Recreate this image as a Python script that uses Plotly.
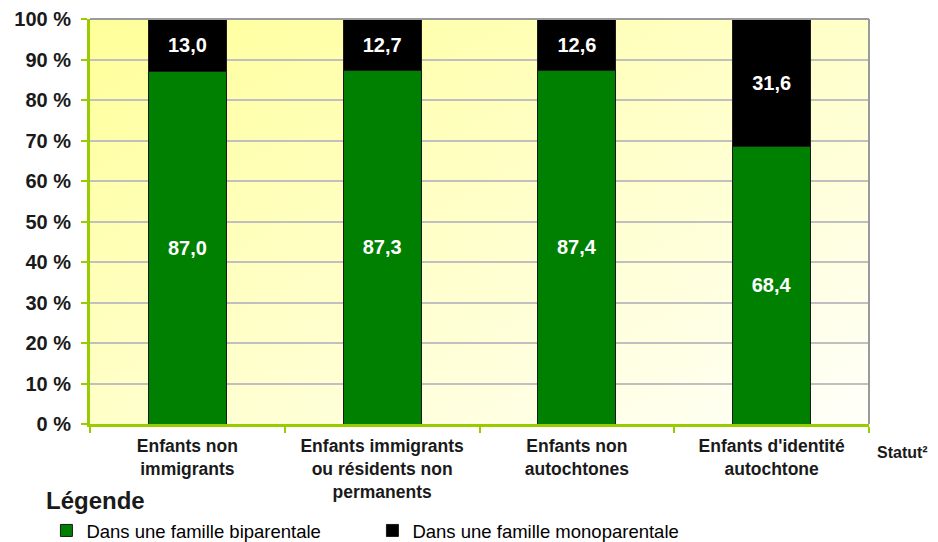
import base64
import plotly.graph_objects as go

categories = [
    "Enfants non<br>immigrants",
    "Enfants immigrants<br>ou résidents non<br>permanents",
    "Enfants non<br>autochtones",
    "Enfants d'identité<br>autochtone",
]
biparentale = [87.0, 87.3, 87.4, 68.4]
monoparentale = [13.0, 12.7, 12.6, 31.6]
series_names = ["Dans une famille biparentale", "Dans une famille monoparentale"]
y_ticks = [0, 10, 20, 30, 40, 50, 60, 70, 80, 90, 100]
y_tick_labels = [f"{v} %" for v in y_ticks]


def fr(v):
    return f"{v:.1f}".replace(".", ",")


GREEN_AXIS = "#99cc00"
FONT = "Liberation Sans, Arial, sans-serif"

fig = go.Figure()
fig.add_trace(go.Bar(
    x=categories, y=biparentale, name=series_names[0],
    marker=dict(color="#008000", line=dict(color="#1a1a1a", width=1)),
    text=[fr(v) for v in biparentale], textposition="inside",
    insidetextanchor="middle",
    textfont=dict(color="white", size=20, family=FONT, weight="bold"),
    hoverinfo="skip",
))
fig.add_trace(go.Bar(
    x=categories, y=monoparentale, name=series_names[1],
    marker=dict(color="#000000", line=dict(color="#1a1a1a", width=1)),
    text=[fr(v) for v in monoparentale], textposition="inside",
    insidetextanchor="middle",
    textfont=dict(color="white", size=20, family=FONT, weight="bold"),
    hoverinfo="skip",
))

svg = (
    '<svg xmlns="http://www.w3.org/2000/svg" width="800" height="400" preserveAspectRatio="none">'
    '<defs><linearGradient id="g" x1="0" y1="0" x2="1" y2="1">'
    '<stop offset="0" stop-color="#ffff99"/>'
    '<stop offset="1" stop-color="#fffffa"/>'
    '</linearGradient></defs>'
    '<rect width="800" height="400" fill="url(#g)"/></svg>'
)
src = "data:image/svg+xml;base64," + base64.b64encode(svg.encode()).decode()

fig.update_layout(
    barmode="stack",
    bargap=0.6,
    width=938, height=542,
    margin=dict(l=90, r=69, t=19, b=118, autoexpand=False),
    paper_bgcolor="white",
    plot_bgcolor="rgba(0,0,0,0)",
    font=dict(family=FONT, color="#1a1a1a"),
    images=[dict(source=src, xref="paper", yref="paper", x=0, y=1,
                 sizex=1, sizey=1, sizing="stretch", layer="below",
                 xanchor="left", yanchor="top")],
    showlegend=True,
    legend=dict(
        orientation="h", x=0.0495, xref="container", xanchor="left",
        y=-0.264, yref="paper", yanchor="middle",
        font=dict(size=18.5, family=FONT, color="#000000"),
        itemwidth=30, entrywidth=281, entrywidthmode="pixels",
        traceorder="normal", bgcolor="rgba(0,0,0,0)",
    ),
    xaxis=dict(
        showline=True, linecolor=GREEN_AXIS, linewidth=3,
        ticks="outside", tickson="boundaries", ticklen=6,
        tickcolor=GREEN_AXIS, tickwidth=2, ticklabelstandoff=4,
        tickfont=dict(size=17.5, family=FONT, weight="bold", color="#1a1a1a"),
        showgrid=False,
    ),
    yaxis=dict(
        range=[0, 100], tickvals=y_ticks, ticktext=y_tick_labels,
        showline=True, linecolor=GREEN_AXIS, linewidth=3,
        ticks="outside", ticklen=6, tickcolor=GREEN_AXIS, tickwidth=2,
        ticklabelstandoff=6,
        tickfont=dict(size=20, family=FONT, weight="bold", color="#1a1a1a"),
        showgrid=True, gridcolor="#c0c0c0", gridwidth=1.5,
        zeroline=False,
    ),
    shapes=[
        dict(type="line", xref="paper", yref="paper", x0=0, x1=1, y0=1, y1=1,
             line=dict(color="#9a9a9a", width=2)),
        dict(type="line", xref="paper", yref="paper", x0=1, x1=1, y0=0, y1=1,
             line=dict(color="#9a9a9a", width=2)),
    ],
    annotations=[
        dict(text="<b>Statut²</b>", xref="paper", yref="paper", x=1.008, y=-0.07,
             xanchor="left", yanchor="middle", showarrow=False,
             font=dict(size=16, family=FONT, color="#1a1a1a")),
        dict(text="<b>Légende</b>", xref="paper", yref="paper",
             x=-0.059, y=-0.19, xanchor="left", yanchor="middle", showarrow=False,
             font=dict(size=24, family=FONT, color="#1a1a1a")),
    ],
)

fig.write_html("out.html", config={"displayModeBar": False},
               post_script="document.body.style.margin='0';")
